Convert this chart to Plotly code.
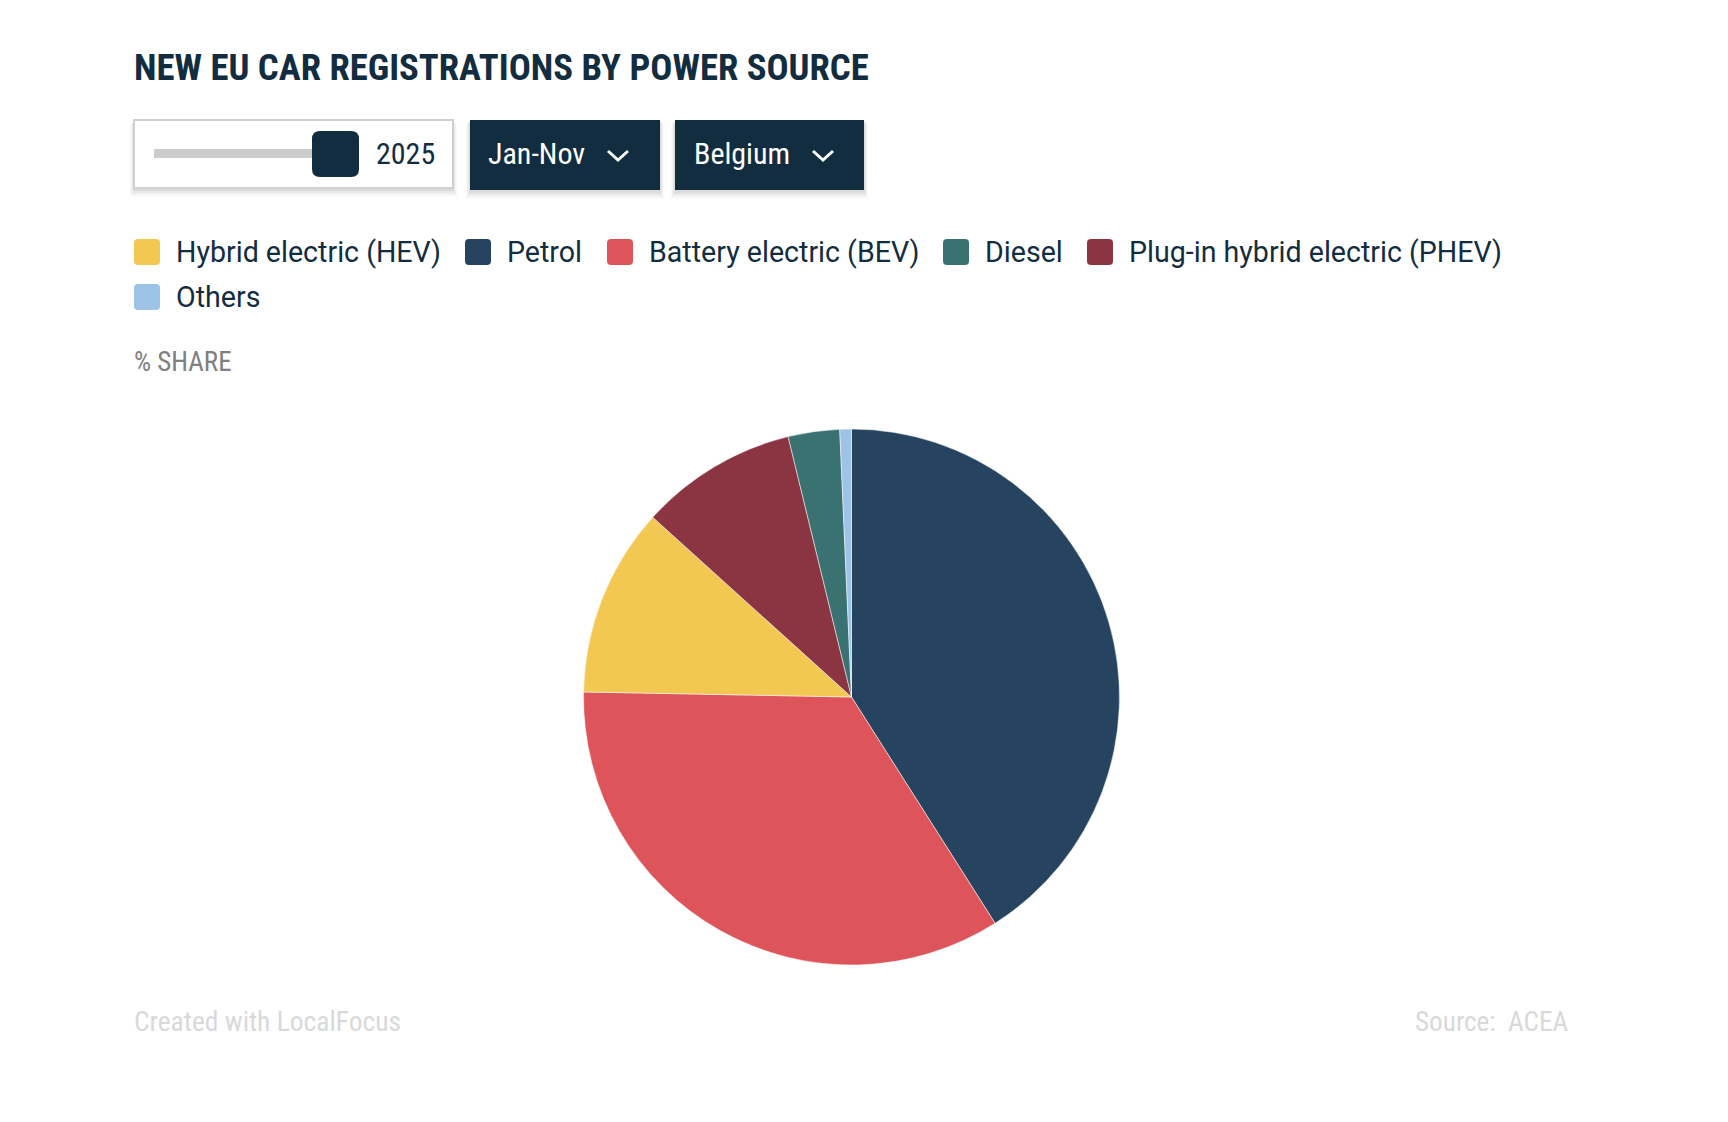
import plotly.graph_objects as go

# ---------------- data ----------------
slice_labels = ["Petrol", "Battery electric (BEV)", "Hybrid electric (HEV)",
                "Plug-in hybrid electric (PHEV)", "Diesel", "Others"]
slice_values = [41.0, 34.3, 11.4, 9.5, 3.1, 0.7]
slice_colors = ["#26445F", "#DD555A", "#F2C852", "#8B3442", "#3A7272", "#9DC3E6"]

legend_order = ["Hybrid electric (HEV)", "Petrol", "Battery electric (BEV)",
                "Diesel", "Plug-in hybrid electric (PHEV)", "Others"]

title_text = "NEW EU CAR REGISTRATIONS BY POWER SOURCE"
year_label = "2025"
period_label = "Jan-Nov"
country_label = "Belgium"
axis_label = "% SHARE"
credit_text = "Created with LocalFocus"
source_text = "Source:  ACEA"

# ---------------- layout helpers ----------------
W, H = 1728, 1122
OFF = 8  # page body margin
NAVY = "#132D40"
COND = "Roboto Condensed, Liberation Sans Narrow, Roboto, sans-serif"
REG = "Roboto, sans-serif"


def X(x):
    return (x - OFF) / W


def Y(y):
    return 1 - (y - OFF) / H


def rrect(x0, y0, x1, y1, r):
    return (f"M {X(x0+r)},{Y(y0)} L {X(x1-r)},{Y(y0)} Q {X(x1)},{Y(y0)} {X(x1)},{Y(y0+r)} "
            f"L {X(x1)},{Y(y1-r)} Q {X(x1)},{Y(y1)} {X(x1-r)},{Y(y1)} "
            f"L {X(x0+r)},{Y(y1)} Q {X(x0)},{Y(y1)} {X(x0)},{Y(y1-r)} "
            f"L {X(x0)},{Y(y0+r)} Q {X(x0)},{Y(y0)} {X(x0+r)},{Y(y0)} Z")


shapes = []
annotations = []


def rect(x0, y0, x1, y1, fill, line_color=None, line_width=0):
    shapes.append(dict(type="rect", xref="paper", yref="paper",
                       x0=X(x0), x1=X(x1), y0=Y(y1), y1=Y(y0),
                       fillcolor=fill, line=dict(color=line_color or fill, width=line_width),
                       layer="below"))


def shadow(x0, y0, x1, y1):
    for i, a in enumerate([0.05, 0.04, 0.03, 0.02]):
        d = i + 1
        rect(x0 - d, y0 + d, x1 + d, y1 + 2 * d + 1, f"rgba(0,0,0,{a})")


def text(x, y, s, size, color, anchor="left", bold=False, family=COND):
    annotations.append(dict(xref="paper", yref="paper", x=X(x), y=Y(y), text=(f"<b>{s}</b>" if bold else s),
                            showarrow=False, xanchor=anchor, yanchor="middle",
                            font=dict(family=family, size=size, color=color)))


def chevron(x0, yc):
    shapes.append(dict(type="path", xref="paper", yref="paper",
                       path=f"M {X(x0)},{Y(yc-5)} L {X(x0+10)},{Y(yc+4)} L {X(x0+20)},{Y(yc-5)}",
                       line=dict(color="white", width=3)))


# ---------------- figure ----------------
fig = go.Figure()
cx, cy, r = 851.5, 697, 268
fig.add_trace(go.Pie(
    labels=slice_labels, values=slice_values,
    marker=dict(colors=slice_colors, line=dict(color="white", width=0.5)),
    sort=False, direction="clockwise", rotation=0,
    textinfo="none", hoverinfo="label+percent",
    domain=dict(x=[X(cx - r), X(cx + r)], y=[Y(cy + r), Y(cy - r)]),
    showlegend=False,
))

# title
text(132, 67, title_text, 36.7, NAVY, bold=True)

# slider control
shadow(134, 120, 453, 188)
rect(134, 120, 453, 188, "white", "#d0d0d0", 2)
rect(154, 149, 320, 158, "#cccccc")
shapes.append(dict(type="path", xref="paper", yref="paper", path=rrect(312, 131, 359, 177, 8),
                   fillcolor=NAVY, line=dict(color=NAVY, width=0)))
text(374, 153, year_label, 30, NAVY)

# dropdowns
shadow(470, 120, 660, 190)
rect(470, 120, 660, 190, NAVY)
text(486, 153, period_label, 30, "white")
chevron(608, 156)

shadow(675, 120, 864, 190)
rect(675, 120, 864, 190, NAVY)
text(692, 153, country_label, 30, "white")
chevron(813, 156)

# custom legend
color_of = dict(zip(slice_labels, slice_colors))
legend_pos = [(134, 252), (465, 252), (607, 252), (943, 252), (1087, 252), (134, 297)]
for name, (lx, ly) in zip(legend_order, legend_pos):
    shapes.append(dict(type="path", xref="paper", yref="paper",
                       path=rrect(lx, ly - 13, lx + 26, ly + 13, 4),
                       fillcolor=color_of[name], line=dict(color=color_of[name], width=0)))
    text(lx + 40, ly, name, 28.6, NAVY, family=REG)

# axis label
text(132, 362, axis_label, 27, "#808080")

# footer
text(132, 1022, credit_text, 27.5, "#d9d9d9")
text(1571, 1022, source_text, 27.2, "#d9d9d9", anchor="right")

fig.update_layout(
    width=W, height=H, autosize=False,
    margin=dict(l=0, r=0, t=0, b=0),
    paper_bgcolor="white", plot_bgcolor="white",
    shapes=shapes, annotations=annotations,
    showlegend=False,
)

fig.write_html("out.html", config={"displayModeBar": False})
